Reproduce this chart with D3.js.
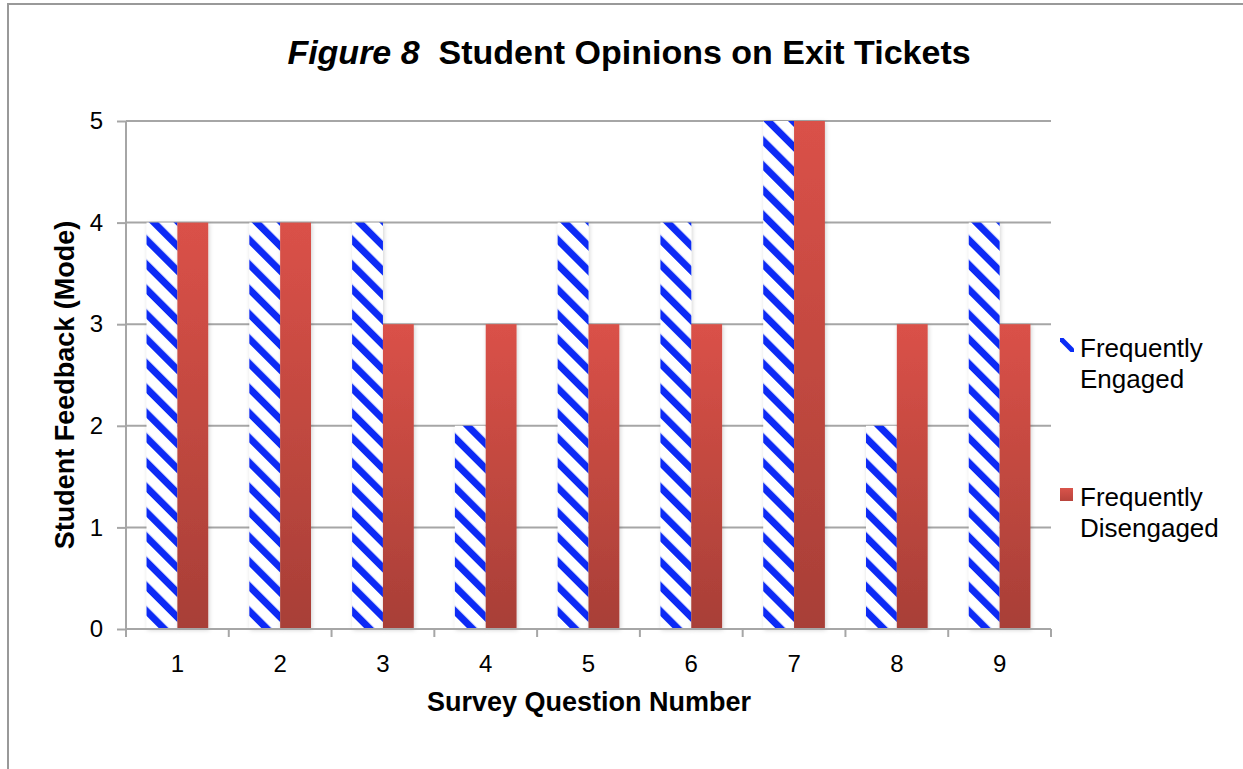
<!DOCTYPE html>
<html>
<head>
<meta charset="utf-8">
<script src="https://cdn.jsdelivr.net/npm/d3@7"></script>
<style>
  body { margin: 0; background: #fff; }
  svg { font-family: "Liberation Sans", Arial, sans-serif; }
</style>
</head>
<body>
<div id="chart"></div>
<script>
// chart values
var questions = ["1", "2", "3", "4", "5", "6", "7", "8", "9"];
var engaged = [4, 4, 4, 2, 4, 4, 5, 2, 4];
var disengaged = [4, 4, 3, 3, 3, 3, 5, 3, 3];
var seriesNames = ["Frequently Engaged", "Frequently Disengaged"];
var yTicks = [0, 1, 2, 3, 4, 5];

var W = 1243, H = 769;
var margin = {top: 121, right: 192, bottom: 140, left: 126};
var width = W - margin.left - margin.right;
var height = H - margin.top - margin.bottom;

var svg = d3.select("#chart").append("svg")
    .attr("width", W)
    .attr("height", H);

var defs = svg.append("defs");

// diagonal stripes for the engaged series
var pat = defs.append("pattern")
    .attr("id", "stripes")
    .attr("patternUnits", "userSpaceOnUse")
    .attr("width", 17.5)
    .attr("height", 17.5)
    .attr("patternTransform", "rotate(-45)");
pat.append("rect").attr("width", 17.5).attr("height", 17.5).attr("fill", "#fff");
pat.append("rect").attr("width", 7).attr("height", 17.5).attr("fill", "#0a2cf5");

// red gradient for the disengaged series
var grad = defs.append("linearGradient")
    .attr("id", "redGrad")
    .attr("x1", 0).attr("y1", 0).attr("x2", 0).attr("y2", 1);
grad.append("stop").attr("offset", "0%").attr("stop-color", "#da5148");
grad.append("stop").attr("offset", "100%").attr("stop-color", "#a83f37");

var legGrad = defs.append("linearGradient")
    .attr("id", "legGrad")
    .attr("x1", 0).attr("y1", 0).attr("x2", 0).attr("y2", 1);
legGrad.append("stop").attr("offset", "0%").attr("stop-color", "#d9544b");
legGrad.append("stop").attr("offset", "100%").attr("stop-color", "#b8443c");

var shadow = defs.append("filter")
    .attr("id", "shadow")
    .attr("x", "-20%").attr("y", "-5%").attr("width", "140%").attr("height", "110%");
shadow.append("feDropShadow")
    .attr("dx", 1).attr("dy", 1)
    .attr("stdDeviation", 2)
    .attr("flood-color", "#000")
    .attr("flood-opacity", 0.18);

defs.append("clipPath")
    .attr("id", "legClip")
    .append("rect")
    .attr("x", 1060).attr("y", 338)
    .attr("width", 14).attr("height", 14);

// outer chart frame
svg.append("rect")
    .attr("x", 8).attr("y", 4)
    .attr("width", W + 20).attr("height", H + 20)
    .attr("fill", "none")
    .attr("stroke", "#999")
    .attr("stroke-width", 2);

var g = svg.append("g")
    .attr("transform", "translate(" + margin.left + "," + margin.top + ")");

var x = d3.scaleBand()
    .domain(questions)
    .range([0, width])
    .paddingInner(0.4)
    .paddingOuter(0.2);

var xSub = d3.scaleBand()
    .domain(["eng", "dis"])
    .range([0, x.bandwidth()]);

var y = d3.scaleLinear()
    .domain([0, 5])
    .range([height, 0]);

// gridlines
g.append("g")
    .selectAll("line")
    .data(yTicks.slice(1))
    .enter().append("line")
    .attr("x1", 0).attr("x2", width)
    .attr("y1", function(d) { return y(d); })
    .attr("y2", function(d) { return y(d); })
    .attr("stroke", "#a6a6a6")
    .attr("stroke-width", 2);

// y axis
var yAxis = g.append("g")
    .call(d3.axisLeft(y).tickValues(yTicks).tickSize(9).tickPadding(14).tickFormat(d3.format("d")));
yAxis.select(".domain").attr("stroke", "#a6a6a6").attr("stroke-width", 2).attr("d", "M0," + (height + 1) + "V0");
yAxis.selectAll(".tick line").attr("stroke", "#a6a6a6").attr("stroke-width", 2);
yAxis.selectAll("text").attr("font-size", 24).attr("fill", "#000")
    .attr("font-family", "Liberation Sans, Arial, sans-serif");

// bars
var data = questions.map(function(q, i) {
    return {q: q, eng: engaged[i], dis: disengaged[i]};
});

var groups = g.selectAll(".qgroup")
    .data(data)
    .enter().append("g")
    .attr("class", "qgroup")
    .attr("transform", function(d) { return "translate(" + x(d.q) + ",0)"; });

groups.append("rect")
    .attr("x", xSub("eng"))
    .attr("width", xSub.bandwidth())
    .attr("y", function(d) { return y(d.eng); })
    .attr("height", function(d) { return height - y(d.eng); })
    .attr("fill", "url(#stripes)")
    .attr("filter", "url(#shadow)");

groups.append("rect")
    .attr("x", xSub("dis"))
    .attr("width", xSub.bandwidth())
    .attr("y", function(d) { return y(d.dis); })
    .attr("height", function(d) { return height - y(d.dis); })
    .attr("fill", "url(#redGrad)")
    .attr("filter", "url(#shadow)");

// x axis line, boundary ticks and labels
g.append("line")
    .attr("x1", 0).attr("x2", width)
    .attr("y1", height).attr("y2", height)
    .attr("stroke", "#a6a6a6")
    .attr("stroke-width", 2);

var step = x.step();
var bounds = d3.range(questions.length + 1).map(function(i) {
    return i * step;
});
g.append("g")
    .selectAll("line")
    .data(bounds)
    .enter().append("line")
    .attr("x1", function(d) { return d; })
    .attr("x2", function(d) { return d; })
    .attr("y1", height)
    .attr("y2", height + 8)
    .attr("stroke", "#a6a6a6")
    .attr("stroke-width", 2);

g.append("g")
    .selectAll("text")
    .data(questions)
    .enter().append("text")
    .attr("x", function(d) { return x(d) + x.bandwidth() / 2; })
    .attr("y", height + 43)
    .attr("text-anchor", "middle")
    .attr("font-size", 24)
    .text(function(d) { return d; });

// axis titles
svg.append("text")
    .attr("x", 589)
    .attr("y", 711)
    .attr("text-anchor", "middle")
    .attr("font-size", 27)
    .attr("font-weight", "bold")
    .text("Survey Question Number");

svg.append("text")
    .attr("transform", "translate(74,385) rotate(-90)")
    .attr("text-anchor", "middle")
    .attr("font-size", 27)
    .attr("font-weight", "bold")
    .text("Student Feedback (Mode)");

// title
var title = svg.append("text")
    .attr("x", 629)
    .attr("y", 64)
    .attr("text-anchor", "middle")
    .attr("font-size", 34)
    .attr("font-weight", "bold");
title.append("tspan").attr("font-style", "italic").text("Figure 8");
title.append("tspan").attr("xml:space", "preserve").text("  Student Opinions on Exit Tickets");

// legend
var legend = svg.append("g");

// engaged symbol: a single diagonal stripe
legend.append("line")
    .attr("x1", 1058).attr("y1", 336)
    .attr("x2", 1076).attr("y2", 354)
    .attr("stroke", "#0a2cf5")
    .attr("stroke-width", 5)
    .attr("clip-path", "url(#legClip)");

legend.append("rect")
    .attr("x", 1060).attr("y", 488)
    .attr("width", 13).attr("height", 13)
    .attr("fill", "url(#legGrad)");

var legText = [
    {name: seriesNames[0], ty: 357},
    {name: seriesNames[1], ty: 506}
];
legend.selectAll("text")
    .data(legText)
    .enter().append("text")
    .attr("font-size", 26)
    .each(function(d) {
        var parts = d.name.split(" ");
        var t = d3.select(this);
        t.append("tspan").attr("x", 1080).attr("y", d.ty).text(parts[0]);
        t.append("tspan").attr("x", 1080).attr("y", d.ty + 31).text(parts[1]);
    });
</script>
</body>
</html>
